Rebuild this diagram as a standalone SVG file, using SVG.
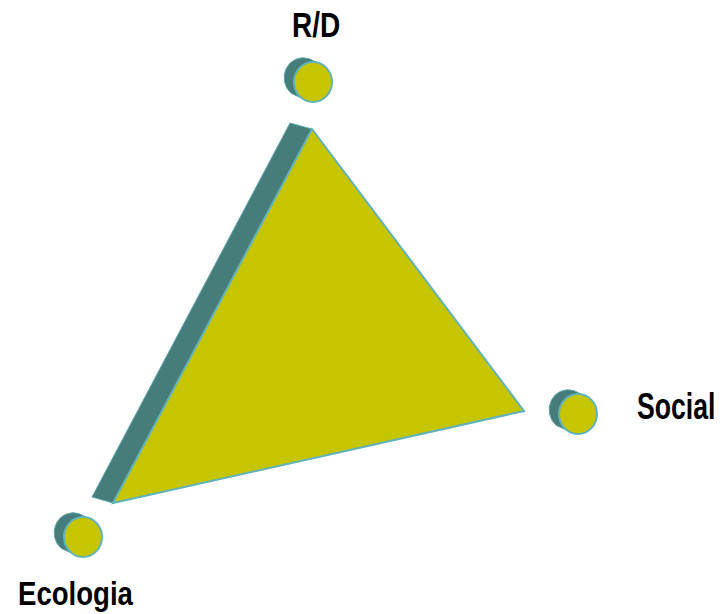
<svg xmlns="http://www.w3.org/2000/svg" width="725" height="614" viewBox="0 0 725 614">
  <style>
    .lbl { font-family: "Liberation Sans", Arial, sans-serif; font-weight: bold; fill: #000; }
    .side { fill: #467C79; stroke: #5FAAB0; stroke-width: 1; }
    .face { fill: #C6C600; stroke: #62B2BC; stroke-width: 2; }
  </style>
  <defs>
    <g id="cyl">
      <path class="side" d="M 8.7,-17.4 L -4.3,-23.4 A 19 20 0 0 0 -21.7,11.4 L -8.7,17.4 Z"/>
      <ellipse class="face" cx="0" cy="0" rx="19" ry="20"/>
    </g>
  </defs>
  <g id="triangle">
    <polygon class="side" points="290,123 312,129 113,503 92,497"/>
    <polygon class="face" points="312,129 524,411 113,503"/>
  </g>
  <g id="node-rd">
    <use href="#cyl" transform="translate(313,82)"/>
    <text class="lbl" transform="translate(292,37) scale(0.8,1)" x="0" y="0" font-size="35">R/D</text>
  </g>
  <g id="node-social">
    <use href="#cyl" transform="translate(578,414)"/>
    <text class="lbl" transform="translate(637,419) scale(0.72,1)" x="0" y="0" font-size="37">Social</text>
  </g>
  <g id="node-ecologia">
    <use href="#cyl" transform="translate(83,537)"/>
    <text class="lbl" transform="translate(18,605) scale(0.836,1)" x="0" y="0" font-size="33">Ecologia</text>
  </g>
  <g id="connectors"></g>
</svg>
